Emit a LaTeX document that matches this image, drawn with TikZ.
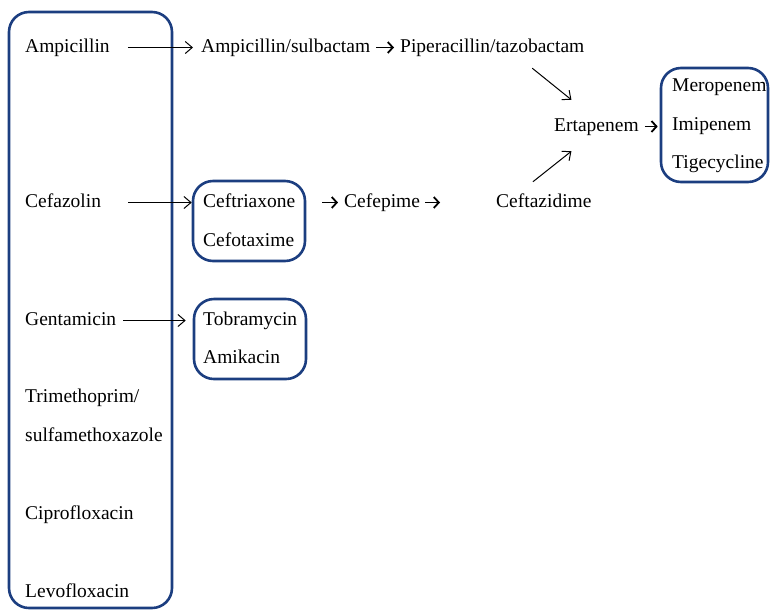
\documentclass[tikz,border=0pt]{standalone}
\usepackage{fontspec}
\setmainfont{Liberation Serif}
\usetikzlibrary{arrows.meta}
\definecolor{boxblue}{RGB}{28,62,128}
\begin{document}
\begin{tikzpicture}[x=1pt,y=1pt]
\tikzstyle{every node}+=[inner sep=0pt, anchor=base west, font=\fontsize{19.5}{23}\selectfont, text height=13pt, text depth=4pt]
\tikzstyle{group}=[draw=boxblue, line width=2.6pt, rounded corners=20pt, anchor=center]
\tikzstyle{longarr}=[black, line width=1pt, -{Straight Barb[length=7pt,width=12pt]}]
\tikzstyle{shortarr}=[black, line width=1.8pt, -{Straight Barb[length=5pt,width=11pt]}]
\useasboundingbox (0,0) rectangle (770,-611);
% boxes
\node [group, minimum width=163pt, minimum height=596pt] (firstline) at (90.5,-310) {};
\node [group, minimum width=112pt, minimum height=80pt] (cephbox) at (249,-221) {};
\node [group, minimum width=112pt, minimum height=80pt] (aminobox) at (250,-339) {};
\node [group, minimum width=107pt, minimum height=114pt] (lastbox) at (714.5,-125) {};
% left column
\node (ampi) at (25,-52) {Ampicillin};
\node (cefaz) at (25,-207) {Cefazolin};
\node (genta) at (25,-325) {Gentamicin};
\node (trim) at (25,-402) {Trimethoprim/};
\node (sulfa) at (25,-441) {sulfamethoxazole};
\node (cipro) at (25,-519) {Ciprofloxacin};
\node (levo) at (25,-597) {Levofloxacin};
% top row
\node (ampsul) at (201,-52) {Ampicillin/sulbactam};
\node (pipt) at (400,-52) {Piperacillin/tazobactam};
\node (erta) at (554,-131) {Ertapenem};
\node (mero) at (672,-91) {Meropenem};
\node (imi) at (672,-130) {Imipenem};
\node (tige) at (672,-168) {Tigecycline};
% cephalosporins
\node (ceftri) at (203,-207) {Ceftriaxone};
\node (cefot) at (203,-246) {Cefotaxime};
\node (cefep) at (344,-207) {Cefepime};
\node (ceftaz) at (496,-207) {Ceftazidime};
% aminoglycosides
\node (tobra) at (203,-325) {Tobramycin};
\node (amik) at (203,-363) {Amikacin};
% arrows
\draw [longarr, shorten <=18pt, shorten >=8pt] (ampi.east) -- (ampsul.west);
\draw [longarr, shorten <=27pt] (cefaz.east) -- (cephbox.west |- cefaz.east);
\draw [longarr, shorten <=7pt, shorten >=7pt] (genta.east) -- (aminobox.west |- genta.east);
\draw [shortarr, shorten <=6pt, shorten >=6pt] (ampsul.east) -- (pipt.west);
\draw [shortarr, shorten <=16pt, shorten >=6pt] (cephbox.east |- cefep.west) -- (cefep.west);
\draw [shortarr, shorten <=5pt, shorten >=56pt] (cefep.east) -- (ceftaz.west);
\draw [shortarr, shorten <=6pt, shorten >=2pt] (erta.east) -- (lastbox.west |- erta.east);
\draw [longarr] ([xshift=40pt,yshift=-12pt]pipt.south) -- ([xshift=-25pt,yshift=18pt]erta.north);
\draw [longarr] ([xshift=-11pt,yshift=12pt]ceftaz.north) -- ([xshift=-25pt,yshift=-16pt]erta.south);
\end{tikzpicture}
\end{document}
